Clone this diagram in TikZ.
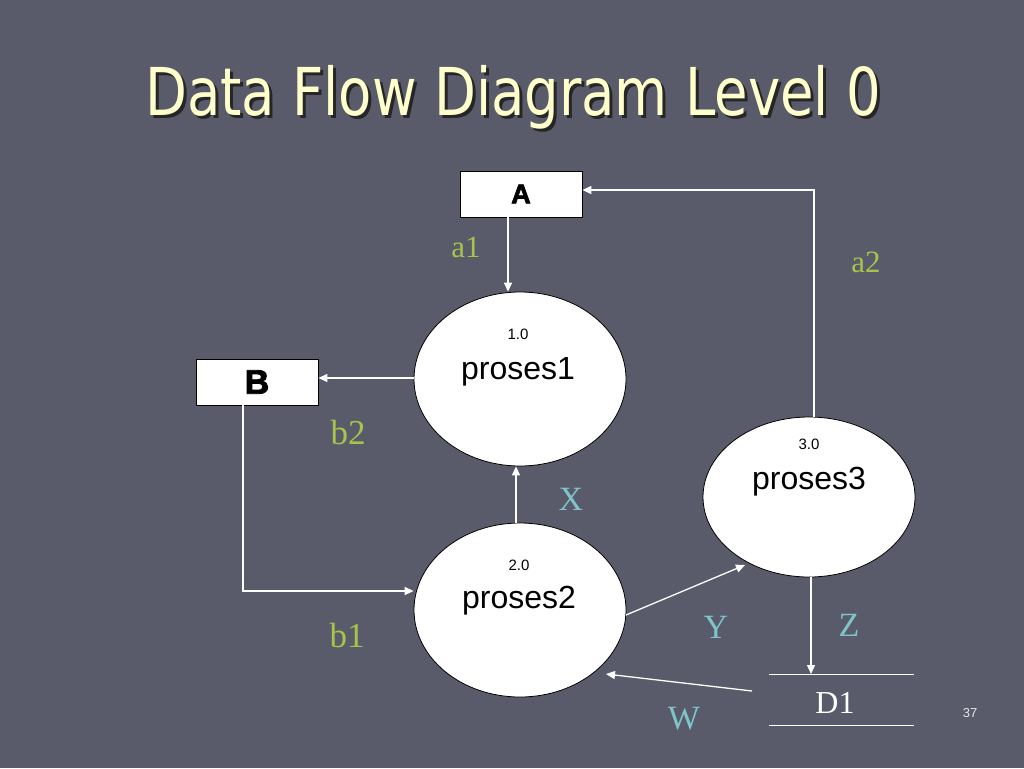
\documentclass[tikz,border=0pt]{standalone}
\usepackage{fontspec}
\setmainfont{Liberation Serif}
\newfontfamily\titlefont{DejaVu Sans}
\newfontfamily\arialfont{Liberation Sans}
\newfontfamily\heavyfont[BoldFeatures={FakeBold=2.5}]{Liberation Sans}
\usetikzlibrary{arrows.meta,shapes.geometric}
\definecolor{bgc}{HTML}{595B6B}
\definecolor{titlec}{HTML}{FFFFCC}
\definecolor{greenc}{HTML}{A6C44A}
\definecolor{tealc}{HTML}{7EC4C8}
\newcommand{\titletext}{\scalebox{0.825}[1]{\titlefont\fontsize{66}{70}\selectfont Data Flow Diagram Level 0}}
\tikzset{
  flow/.style={draw=white, line width=1.3pt, -{Triangle[length=9pt,width=8pt]}},
  flowline/.style={draw=white, line width=1.3pt},
  entity/.style={draw=black, fill=white, line width=0.8pt, minimum width=122pt, minimum height=46pt, inner sep=0pt},
  proc/.style={draw=black, fill=white, line width=0.8pt, ellipse, inner sep=0pt},
  lblg/.style={anchor=base, text=greenc, inner sep=0pt},
  lblt/.style={anchor=base, text=tealc, inner sep=0pt, font=\fontsize{34}{36}\selectfont},
  ptxt/.style={anchor=base, inner sep=0pt, text=black},
}
\begin{document}
\begin{tikzpicture}[x=1pt,y=-1pt]
\fill[bgc] (0,0) rectangle (1024,768);
\useasboundingbox (0,0) rectangle (1024,768);
% title with shadow
\node[anchor=base, inner sep=0pt, text=titlec] (title) at (513,115)
  {\rlap{\kern3pt\raisebox{-3pt}{\color{black!85}\titletext}}\titletext};
% entities
\node[entity] (A) at (521,194) {\heavyfont\bfseries\fontsize{27}{29}\selectfont A};
\node[entity] (B) at (257,382) {\heavyfont\bfseries\fontsize{34}{36}\selectfont B};
% processes
\node[proc, minimum width=212pt, minimum height=174pt] (P1) at (520,379) {};
\node[proc, minimum width=212pt, minimum height=174pt] (P2) at (520,610) {};
\node[proc, minimum width=212pt, minimum height=160pt] (P3) at (809,497) {};
\node[ptxt, font=\arialfont\fontsize{15}{16}\selectfont] (n1) at (518,339) {1.0};
\node[ptxt, font=\arialfont\fontsize{32}{34}\selectfont] (t1) at (518,379) {proses1};
\node[ptxt, font=\arialfont\fontsize{15}{16}\selectfont] (n2) at (519,570) {2.0};
\node[ptxt, font=\arialfont\fontsize{32}{34}\selectfont] (t2) at (519,608) {proses2};
\node[ptxt, font=\arialfont\fontsize{15}{16}\selectfont] (n3) at (809,449) {3.0};
\node[ptxt, font=\arialfont\fontsize{32}{34}\selectfont] (t3) at (809,489) {proses3};
% data store
\coordinate (D1tl) at (769,674);
\coordinate (D1tr) at (914,674);
\coordinate (D1bl) at (769,725);
\coordinate (D1br) at (914,725);
\draw[flowline, line width=1pt] (D1tl) -- (D1tr);
\draw[flowline, line width=1pt] (D1bl) -- (D1br);
\node[anchor=base, inner sep=0pt, text=white, font=\fontsize{32}{34}\selectfont] (D1) at (835,713) {D1};
% flows
\draw[flow] (A.south -| 508,0) -- (P1.north -| 508,0);
\coordinate (c32) at (814,190);
\draw[flow] (P3.north -| 814,0) -- (c32) -- (A.east |- c32);
\draw[flow] (P1.west |- 0,378) -- (B.east |- 0,378);
\coordinate (cB) at (243,591);
\draw[flow] (B.south -| cB) -- (cB) -- (P2.west |- cB);
\draw[flow] (P2.north -| 516,0) -- (P1.south -| 516,0);
\coordinate (y1) at (626,615);
\coordinate (y2) at (745,565);
\draw[flow] (y1) -- (y2);
\draw[flow] (P3.south -| 811,0) -- (D1tl -| 811,0);
\coordinate (w1) at (752,691);
\coordinate (w2) at (606,674);
\draw[flow] (w1) -- (w2);
% labels
\node[lblg, font=\fontsize{31}{33}\selectfont] (la1) at (466,257) {a1};
\node[lblg, font=\fontsize{31}{33}\selectfont] (la2) at (866,272) {a2};
\node[lblg, font=\fontsize{35}{37}\selectfont] (lb2) at (348,444) {b2};
\node[lblg, font=\fontsize{35}{37}\selectfont] (lb1) at (347,647) {b1};
\node[lblt] (lX) at (571,510) {X};
\node[lblt] (lY) at (716,638) {Y};
\node[lblt] (lZ) at (849,636) {Z};
\node[lblt] (lW) at (684,729) {W};
\node[anchor=base, inner sep=0pt, text=white!90!black, font=\arialfont\fontsize{13}{14}\selectfont] (pg) at (970,717) {37};
\end{tikzpicture}
\end{document}
